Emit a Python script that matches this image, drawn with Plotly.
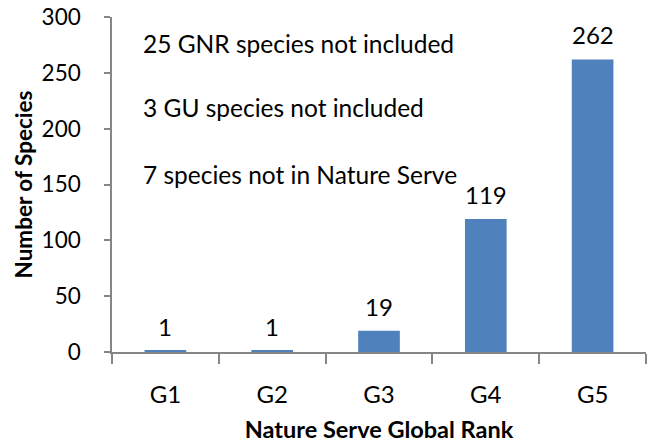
import plotly.graph_objects as go

categories = ["G1", "G2", "G3", "G4", "G5"]
values = [1, 1, 19, 119, 262]
y_ticks = [0, 50, 100, 150, 200, 250, 300]
notes = ["25 GNR species not included", "3 GU species not included", "7 species not in Nature Serve"]
note_y = [0.922, 0.731, 0.531]

FONT = "Lato"
fig = go.Figure()
fig.add_trace(go.Bar(x=categories, y=values, marker=dict(color="#4F81BD", line=dict(width=0)), width=0.39))

for c, v in zip(categories, values):
    fig.add_annotation(x=c, y=v, text=str(v), showarrow=False, yanchor="bottom", yshift=8,
                       font=dict(family=FONT, size=24, color="#000"))
for t, y in zip(notes, note_y):
    fig.add_annotation(xref="paper", yref="paper", x=0.0543, y=y, text=t, showarrow=False,
                       xanchor="left", yanchor="middle", font=dict(family=FONT, size=24.5, color="#000"))

fig.update_layout(
    width=655, height=443,
    margin=dict(l=112, r=9, t=17, b=91),
    plot_bgcolor="white", paper_bgcolor="white",
    showlegend=False,
    font=dict(family=FONT, size=22, color="#000"),
)
fig.update_xaxes(showline=True, linecolor="#868686", linewidth=1.5, ticks="outside", tickson="boundaries",
                 ticklen=10, tickcolor="#868686", tickwidth=1.5, showgrid=False, automargin=False,
                 tickfont=dict(family=FONT, size=24), ticklabelstandoff=20,
                 title=dict(text="<b>Nature Serve Global Rank</b>", font=dict(family=FONT, size=23.5), standoff=15))
fig.update_yaxes(range=[0, 300], tickvals=y_ticks, showline=True, linecolor="#868686", linewidth=1.5,
                 ticks="outside", ticklen=6, tickcolor="#868686", tickwidth=1.5, showgrid=False, zeroline=False,
                 automargin=False, ticklabeloverflow="allow",
                 tickfont=dict(family=FONT, size=22.5), ticklabelstandoff=19,
                 title=dict(text="<b>Number of Species</b>", font=dict(family=FONT, size=22.5), standoff=3))

fig.write_html("out.html", config={"displayModeBar": False},
               post_script="document.body.style.margin='0';")
